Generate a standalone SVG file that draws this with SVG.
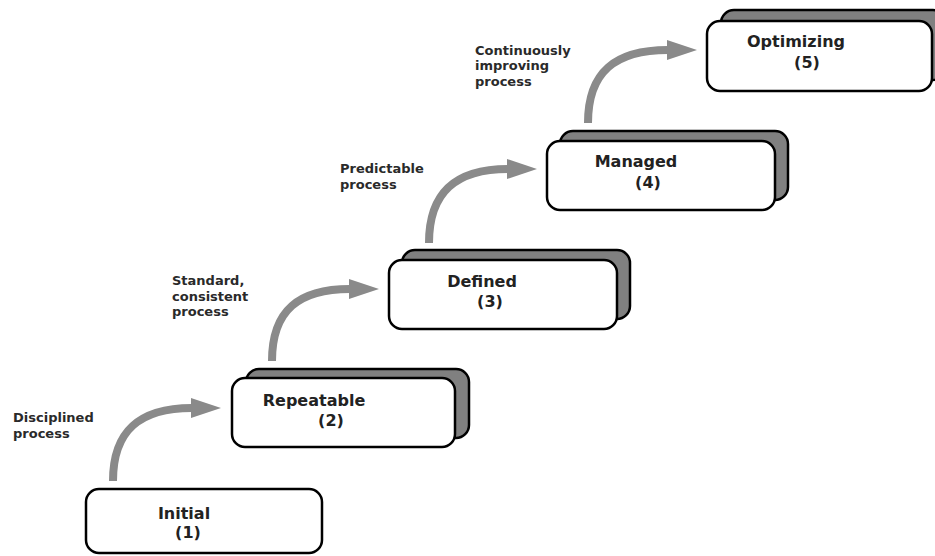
<svg xmlns="http://www.w3.org/2000/svg" width="935" height="556" viewBox="0 0 935 556">
<style>
.front{fill:#fff;stroke:#000;stroke-width:2.5}
.shadow{fill:#808080;stroke:#000;stroke-width:2.5}
.lbl{font-family:"DejaVu Sans",sans-serif;font-weight:bold;font-size:16px;fill:#222;text-anchor:middle}
.note{font-family:"DejaVu Sans",sans-serif;font-weight:bold;font-size:13px;fill:#2a2a2a}
.arr{fill:none;stroke:#8a8a8a;stroke-width:8}
</style>
<defs>
<marker id="ah" markerUnits="userSpaceOnUse" markerWidth="31" markerHeight="22" refX="1" refY="11" orient="auto">
<path d="M0,1 L30,11 L0,21 z" fill="#8a8a8a"/>
</marker>
</defs>
<rect width="935" height="556" fill="#fff"/>
<g id="connectors">
<path class="arr" d="M113,481 C113,430 140,408 192,408" marker-end="url(#ah)"/>
<path class="arr" d="M272,361 C272,310 299,289 350,289" marker-end="url(#ah)"/>
<path class="arr" d="M429,243 C429,192 456,169 508,169" marker-end="url(#ah)"/>
<path class="arr" d="M588,123 C588,72 615,50 668,50" marker-end="url(#ah)"/>
</g>
<g id="notes">
<text class="note" x="13" y="422">Disciplined</text>
<text class="note" x="13" y="438">process</text>
<text class="note" x="172" y="285">Standard,</text>
<text class="note" x="172" y="301">consistent</text>
<text class="note" x="172" y="316">process</text>
<text class="note" x="340" y="173">Predictable</text>
<text class="note" x="340" y="189">process</text>
<text class="note" x="475" y="55">Continuously</text>
<text class="note" x="475" y="70">improving</text>
<text class="note" x="475" y="86">process</text>
</g>
<g id="initial">
<rect class="front" x="86" y="489" width="236" height="64" rx="13"/>
<text class="lbl" x="184" y="519">Initial</text>
<text class="lbl" x="188" y="538">(1)</text>
</g>
<g id="repeatable">
<rect class="shadow" x="246" y="369" width="223" height="69" rx="13"/>
<rect class="front" x="232" y="378" width="223" height="69" rx="13"/>
<text class="lbl" x="314" y="406">Repeatable</text>
<text class="lbl" x="331" y="426">(2)</text>
</g>
<g id="defined">
<rect class="shadow" x="402" y="250" width="228" height="69" rx="13"/>
<rect class="front" x="389" y="260" width="228" height="69" rx="13"/>
<text class="lbl" x="482" y="287">Defined</text>
<text class="lbl" x="490" y="307">(3)</text>
</g>
<g id="managed">
<rect class="shadow" x="560" y="131" width="228" height="69" rx="13"/>
<rect class="front" x="547" y="141" width="228" height="69" rx="13"/>
<text class="lbl" x="636" y="167">Managed</text>
<text class="lbl" x="648" y="188">(4)</text>
</g>
<g id="optimizing">
<rect class="shadow" x="721" y="10" width="225" height="70" rx="13"/>
<rect class="front" x="707" y="21" width="225" height="70" rx="13"/>
<text class="lbl" x="796" y="47">Optimizing</text>
<text class="lbl" x="807" y="68">(5)</text>
</g>
</svg>
